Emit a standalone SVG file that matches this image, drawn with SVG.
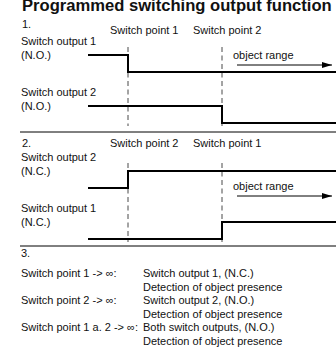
<svg xmlns="http://www.w3.org/2000/svg" width="336" height="350" viewBox="0 0 336 350">
<defs>
<style>
text{font-family:"Liberation Sans",Arial,sans-serif;font-size:11px;fill:#111}
.title{font-size:16.6px;font-weight:bold}
.sig{fill:none;stroke:#000;stroke-width:2}
.dash{fill:none;stroke:#333;stroke-width:0.9;stroke-dasharray:5 3.5}
.rule{stroke:#000;stroke-width:1}
.arr{stroke:#000;stroke-width:1;marker-end:url(#ah)}
</style>
<marker id="ah" markerWidth="10" markerHeight="6" refX="10" refY="3" orient="auto" markerUnits="userSpaceOnUse">
<path d="M0,0 L10,3 L0,6 Z" fill="#000"/>
</marker>
</defs>
<rect width="336" height="350" fill="#fff"/>
<text class="title" x="22" y="11">Programmed switching output function</text>

<g id="section1">
<text x="22" y="28">1.</text>
<text x="110" y="34">Switch point 1</text>
<text x="193" y="34">Switch point 2</text>
<text x="21" y="45">Switch output 1</text>
<text x="21" y="59">(N.O.)</text>
<text x="21" y="96">Switch output 2</text>
<text x="21" y="110">(N.O.)</text>
<text x="233" y="59">object range</text>
</g>

<g id="section2">
<line class="rule" x1="20" y1="132" x2="336" y2="132"/>
<text x="22" y="147">2.</text>
<text x="110" y="147">Switch point 2</text>
<text x="193" y="147">Switch point 1</text>
<text x="21" y="161">Switch output 2</text>
<text x="21" y="175">(N.C.)</text>
<text x="21" y="212">Switch output 1</text>
<text x="21" y="226">(N.C.)</text>
<text x="233" y="190">object range</text>
</g>

<g id="section3">
<line class="rule" x1="20" y1="246" x2="336" y2="246"/>
<text x="21" y="257">3.</text>
<text x="21" y="277">Switch point 1 -&gt; ∞:</text>
<text x="143" y="277">Switch output 1, (N.C.)</text>
<text x="143" y="290.5">Detection of object presence</text>
<text x="21" y="304">Switch point 2 -&gt; ∞:</text>
<text x="143" y="304">Switch output 2, (N.O.)</text>
<text x="143" y="317.5">Detection of object presence</text>
<text x="21" y="331">Switch point 1 a. 2 -&gt; ∞:</text>
<text x="143" y="331">Both switch outputs, (N.O.)</text>
<text x="143" y="344.5">Detection of object presence</text>
</g>

<g id="connectors">
<line class="dash" x1="128" y1="47" x2="128" y2="126"/>
<line class="dash" x1="222" y1="47" x2="222" y2="126"/>
<line class="dash" x1="128" y1="163" x2="128" y2="242"/>
<line class="dash" x1="222" y1="163" x2="222" y2="242"/>
<path class="sig" d="M88,55 H128 V72 H336"/>
<path class="sig" d="M88,106 H222 V123 H336"/>
<path class="sig" d="M88,188 H128 V171 H336"/>
<path class="sig" d="M88,239 H222 V222 H336"/>
<line class="arr" x1="237" y1="65" x2="332" y2="65"/>
<line class="arr" x1="237" y1="196" x2="332" y2="196"/>
</g>
</svg>
